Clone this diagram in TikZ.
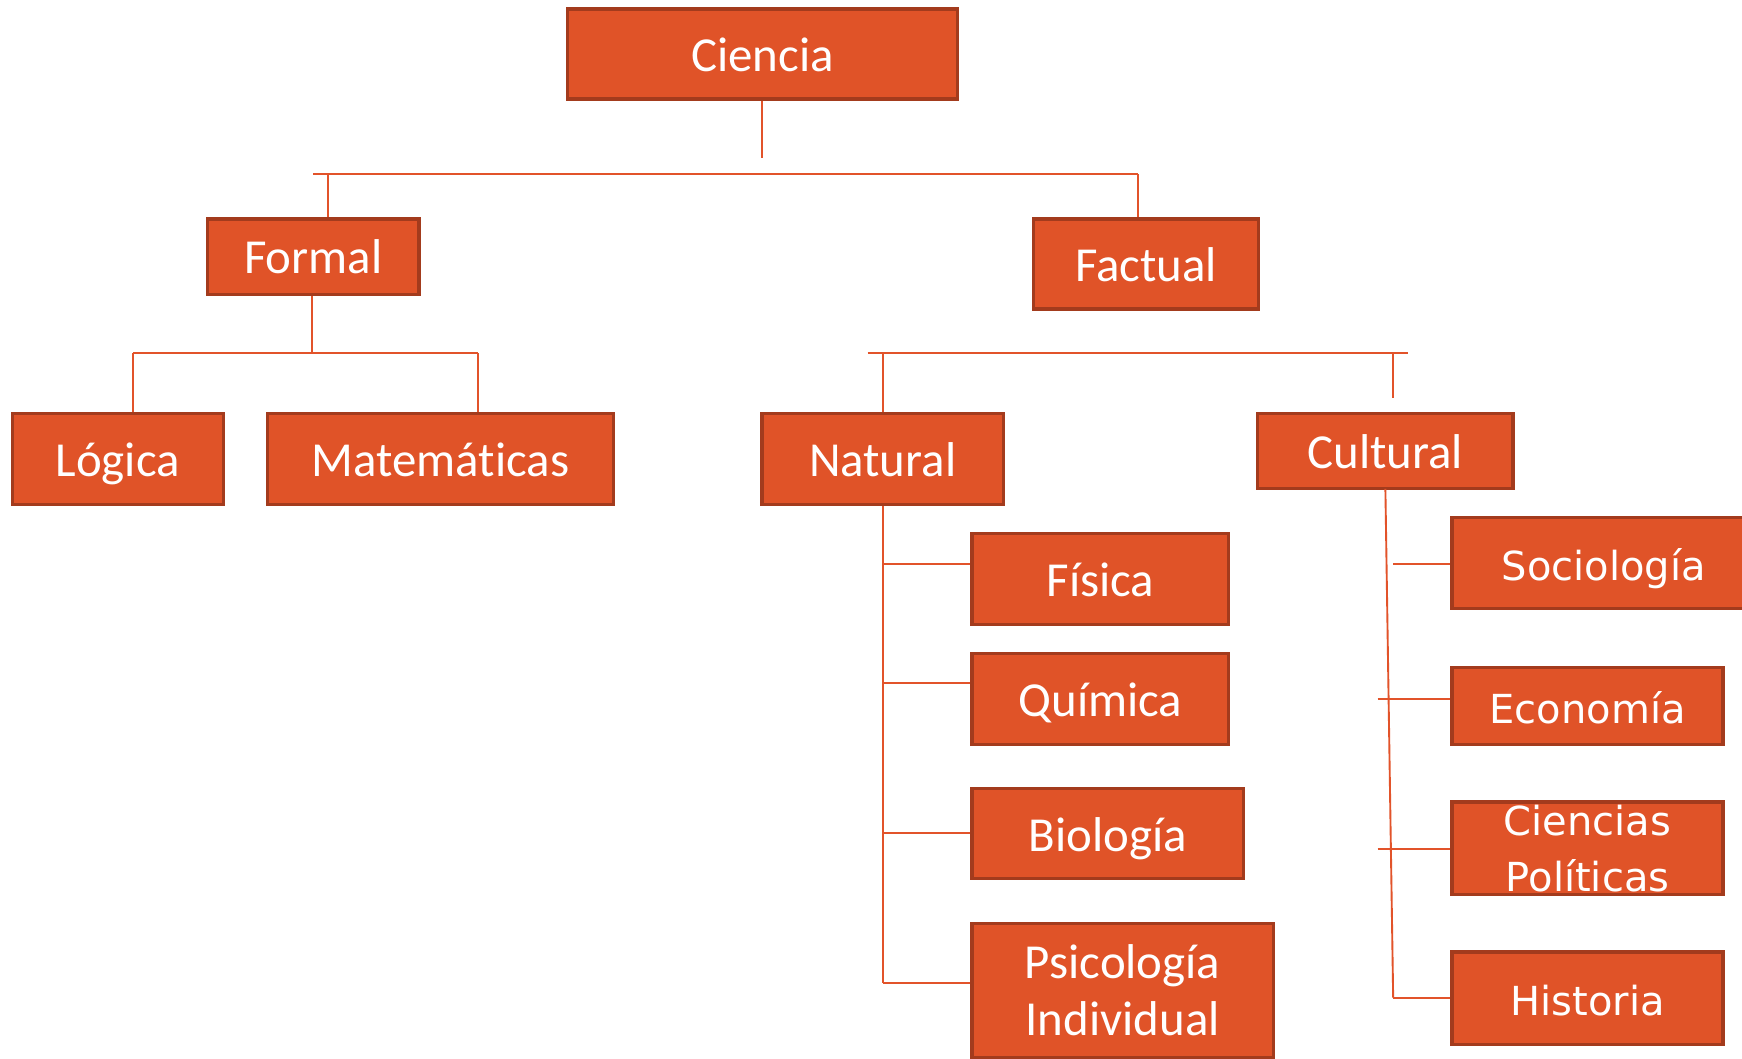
\documentclass[tikz,border=0pt]{standalone}
\usepackage{fontspec}
\setmainfont[Ligatures={NoCommon}]{Carlito}
\newfontfamily\dvfont{DejaVu Sans}
\definecolor{boxfill}{HTML}{E05328}
\definecolor{boxedge}{HTML}{A33B1D}
\definecolor{wire}{HTML}{E2532A}
\begin{document}
\begin{tikzpicture}[x=0.5pt,y=-0.5pt,
  box/.style={draw=boxedge, fill=boxfill, line width=1.5pt, text=white,
    inner sep=0pt, align=center, font=\fontsize{22}{25.5}\selectfont},
  onel/.style={text height=17.5pt, text depth=2pt},
  dvbox/.style={box, font=\dvfont\fontsize{18}{25}\selectfont},
  sz/.style 2 args={minimum width=#1*0.5pt, minimum height=#2*0.5pt},
  wire/.style={draw=wire, line width=0.85pt}]
\useasboundingbox (0,0) rectangle (1568,953);
\fill[white] (0,0) rectangle (1568,953);

% top level
\node[box, onel, sz={351}{81}] (ciencia) at (686.5,48.5) {Ciencia};
\node[box, onel, sz={190}{68}] (formal) at (282,231) {Formal};
\node[box, onel, sz={203}{81}] (factual) at (1031.5,237.5) {Factual};

% formal branch
\node[box, onel, sz={190}{82}] (logica) at (106,413) {Lógica};
\node[box, onel, sz={311}{82}] (mate) at (396.5,413) {Matemáticas};

% factual branch
\node[box, onel, sz={217}{82}] (natural) at (794.5,413) {Natural};
\node[box, onel, sz={230}{68}] (cultural) at (1247,406) {Cultural};

% natural sciences
\node[box, onel, sz={231}{82}] (fisica) at (990.5,521) {Física};
\node[box, onel, sz={231}{82}] (quimica) at (990.5,629) {Química};
\node[box, onel, sz={244}{81}] (biologia) at (997,750.5) {Biología};
\node[box, sz={271}{121}] (psico) at (1010.5,891.5) {Psicología\\Individual};

% cultural sciences
\node[dvbox, onel, sz={273}{82}] (socio) at (1443.5,507) {Sociología};
\node[dvbox, onel, sz={244}{69}] (econo) at (1429,635.5) {Economía};
\node[box, sz={244}{83}] (cpbox) at (1429,763.5) {};
\node[font=\dvfont\fontsize{18}{25}\selectfont, text=white, align=center] (cptext) at (1429,764) {Ciencias\\Políticas};
\node[dvbox, onel, sz={244}{83}] (historia) at (1429,898.5) {Historia};

% connectors: Ciencia
\coordinate (c0) at (686,142);
\coordinate (hL) at (282,157);
\coordinate (hR) at (1024,157);
\draw[wire] (ciencia.south -| c0) -- (c0);
\draw[wire] (hL) -- (hR);
\draw[wire] (295,157) -- (formal.north -| 295,0);
\draw[wire] (hR) -- (factual.north -| hR);

% connectors: Formal
\coordinate (f0) at (281,318);
\draw[wire] (formal.south -| f0) -- (f0);
\draw[wire] (120,318) -- (430,318);
\draw[wire] (120,318) -- (logica.north -| 120,0);
\draw[wire] (430,318) -- (mate.north -| 430,0);

% connectors: Factual
\coordinate (gL) at (781,318);
\coordinate (gR) at (1267,318);
\coordinate (cstub) at (1254,358);
\draw[wire] (gL) -- (gR);
\draw[wire] (795,318) -- (natural.north -| 795,0);
\draw[wire] (1254,318) -- (cstub);

% connectors: Natural
\coordinate (nEnd) at (795,885);
\draw[wire] (natural.south -| nEnd) -- (nEnd);
\draw[wire] (795,508) -- (fisica.west |- 0,508);
\draw[wire] (795,615) -- (quimica.west |- 0,615);
\draw[wire] (795,750) -- (biologia.west |- 0,750);
\draw[wire] (nEnd) -- (psico.west |- nEnd);

% connectors: Cultural
\coordinate (kTop) at (1247,440);
\coordinate (kEnd) at (1254,898);
\draw[wire] (kTop) -- (kEnd);
\draw[wire] (1254,508) -- (socio.west |- 0,508);
\draw[wire] (1240,629) -- (econo.west |- 0,629);
\draw[wire] (1240,764) -- (cpbox.west |- 0,764);
\draw[wire] (kEnd) -- (historia.west |- kEnd);
\end{tikzpicture}
\end{document}
